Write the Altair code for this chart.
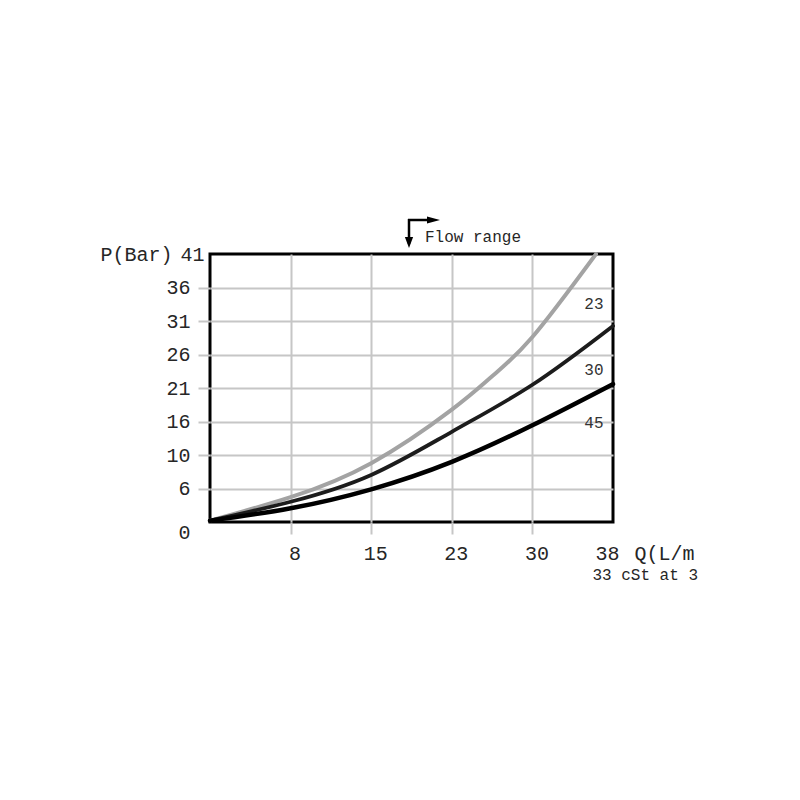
import altair as alt
import pandas as pd

FONT = "Liberation Mono"

# ---- data ----
curve_names = ["23", "30", "45"]
curve_colors = ["#a3a3a3", "#1c1c1c", "#000000"]
curve_widths = [4, 3.8, 4.5]

q_23 = [0, 7.6, 15.2, 22.8, 26.6, 30.4, 36.4]
p_23 = [0.2, 3.8, 9.0, 17.2, 22.3, 28.3, 41.0]

q_30 = [0, 7.6, 15.2, 22.8, 30.4, 38.0]
p_30 = [0.2, 3.1, 7.2, 13.8, 21.0, 30.0]

q_45 = [0, 7.6, 15.2, 22.8, 30.4, 38.0]
p_45 = [0.2, 2.1, 5.0, 9.2, 14.8, 21.1]

label_q = [36.2, 36.2, 36.2]
label_p = [33.3, 23.3, 15.2]

x_tick_values = [7.6, 15.2, 22.8, 30.4, 38]
x_tick_labels = ["8", "15", "23", "30", "38"]
y_tick_values = [0, 5.125, 10.25, 15.375, 20.5, 25.625, 30.75, 35.875, 41]
y_tick_labels = ["0", "6", "10", "16", "21", "26", "31", "36", "41"]

flow_text = "Flow range"
note_text = "33 cSt at 3"
x_title = "Q(L/m"
y_title = "P(Bar)"

# ---- helpers ----
def label_expr(values, labels):
    vals = ",".join(repr(v) for v in values)
    labs = ",".join("'" + s + "'" for s in labels)
    return f"[{labs}][indexof([{vals}], datum.value)]"

GRID = "#c6c6c6"
TXT = "#262626"

x_edge = "datum.value >= 38"
y_edge = "datum.value == 0 || datum.value == 41"

x_enc = alt.X(
    "Q:Q",
    scale=alt.Scale(domain=[0, 38], nice=False, zero=True),
    axis=alt.Axis(
        values=x_tick_values, tickCount=20,
        labelExpr=label_expr(x_tick_values, x_tick_labels),
        grid=True, gridWidth=2,
        gridColor={"condition": {"test": x_edge, "value": "transparent"}, "value": GRID},
        domain=False,
        ticks=True, tickSize=12, tickWidth=2,
        tickColor={"condition": {"test": x_edge, "value": "transparent"}, "value": GRID},
        labelFont=FONT, labelFontSize=20, labelColor=TXT,
        labelPadding=9, labelFlush=False, labelOverlap=False,
        labelOffset={"condition": {"test": x_edge, "value": -6}, "value": 4},
        title=x_title, titleFont=FONT, titleFontSize=20, titleFontWeight="normal",
        titleColor=TXT, titleAngle=0, titleAlign="left", titleBaseline="middle",
        titleX=424, titleY=31,
    ),
)
y_enc = alt.Y(
    "P:Q",
    scale=alt.Scale(domain=[0, 41], nice=False, zero=True),
    axis=alt.Axis(
        values=y_tick_values, tickCount=20,
        labelExpr=label_expr(y_tick_values, y_tick_labels),
        grid=True, gridWidth=2,
        gridColor={"condition": {"test": y_edge, "value": "transparent"}, "value": GRID},
        domain=False,
        ticks=True, tickSize=12, tickWidth=2,
        tickColor={"condition": {"test": y_edge, "value": "transparent"}, "value": GRID},
        labelFont=FONT, labelFontSize=20, labelColor=TXT,
        labelPadding={"condition": {"test": "datum.value == 41", "value": -6}, "value": 8},
        labelOffset={"condition": {"test": "datum.value == 0", "value": 10}, "value": 0},
        labelFlush=False, labelOverlap=False,
        title=y_title, titleFont=FONT, titleFontSize=20, titleFontWeight="normal",
        titleColor=TXT, titleAngle=0, titleAlign="left", titleBaseline="middle",
        titleX=-110, titleY=0,
    ),
)

layers = []
for name, qs, ps, col, w in zip(curve_names, [q_23, q_30, q_45], [p_23, p_30, p_45],
                                curve_colors, curve_widths):
    df = pd.DataFrame({"Q": qs, "P": ps})
    layers.append(
        alt.Chart(df).mark_line(interpolate="natural", color=col, strokeWidth=w,
                                strokeCap="round").encode(x=x_enc, y=y_enc)
    )

labels_df = pd.DataFrame({"Q": label_q, "P": label_p, "name": curve_names})
curve_labels = alt.Chart(labels_df).mark_text(
    font=FONT, fontSize=16, color="#333333", align="center", baseline="middle"
).encode(x=alt.X("Q:Q"), y=alt.Y("P:Q"), text="name:N")

# annotations above the plot
ann_df = pd.DataFrame({"t": [flow_text]})
flow_label = alt.Chart(ann_df).mark_text(
    font=FONT, fontSize=16, color=TXT, align="left", baseline="middle"
).encode(text="t:N", x=alt.value(215), y=alt.value(-17))

vline = alt.Chart(ann_df).mark_rule(color="black", strokeWidth=2.5).encode(
    x=alt.value(199), y=alt.value(-35), y2=alt.value(-10))
hline = alt.Chart(ann_df).mark_rule(color="black", strokeWidth=2.5).encode(
    x=alt.value(198), x2=alt.value(222), y=alt.value(-34))
down_head = alt.Chart(ann_df).mark_point(
    shape="M-0.75,-1L0.75,-1L0,1Z", filled=True, color="black", opacity=1, size=121
).encode(x=alt.value(199), y=alt.value(-11.5))
right_head = alt.Chart(ann_df).mark_point(
    shape="M-1,-0.55L1,0L-1,0.55Z", filled=True, color="black", opacity=1, size=169
).encode(x=alt.value(223.5), y=alt.value(-34))

note = alt.Chart(pd.DataFrame({"t": [note_text]})).mark_text(
    font=FONT, fontSize=16, color=TXT, align="right", baseline="middle"
).encode(text="t:N", x=alt.value(488), y=alt.value(321))

chart = alt.layer(
    *layers, curve_labels, flow_label, vline, hline, down_head, right_head, note
).properties(
    width=403, height=268,
    autosize=alt.AutoSizeParams(type="none"),
    padding={"left": 202, "top": 246, "right": 170, "bottom": 260},
    background="white",
).configure_view(stroke="black", strokeWidth=3)

chart.save("out.html", embed_options={"renderer": "svg", "actions": False})
